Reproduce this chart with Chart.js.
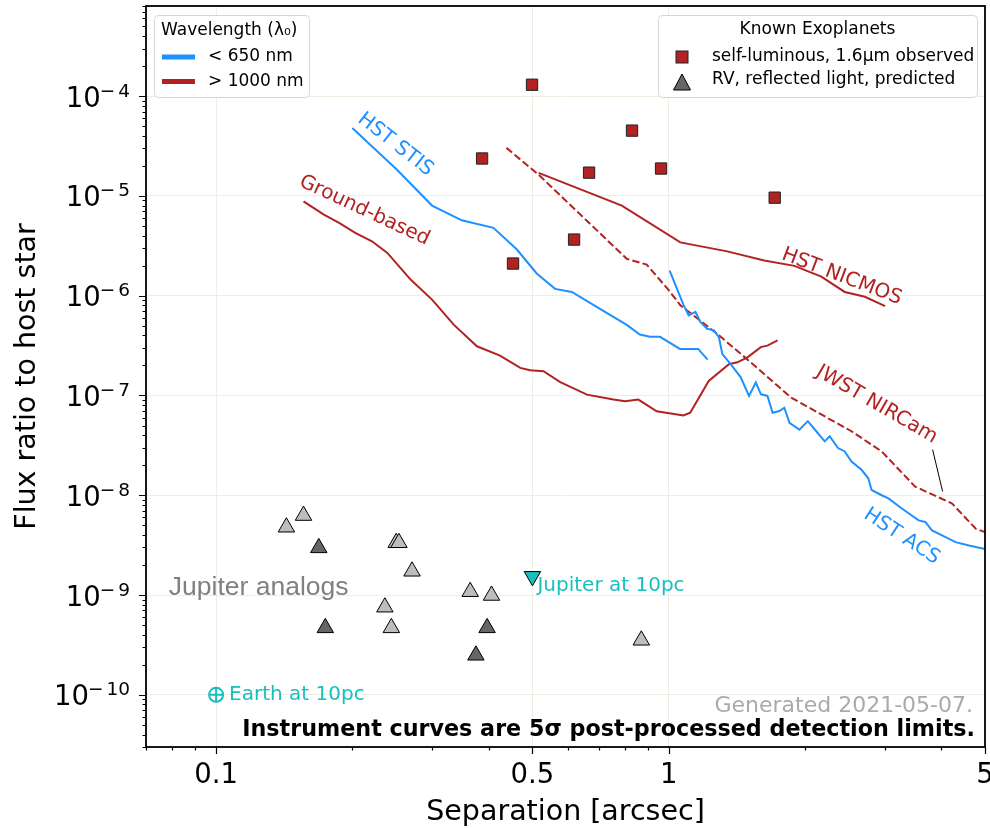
<!DOCTYPE html>
<html>
<head>
<meta charset="utf-8">
<script src="https://cdn.jsdelivr.net/npm/chart.js@4.4.1/dist/chart.umd.min.js"></script>
<style>
html, body { margin: 0; padding: 0; background: #fff; }
</style>
</head>
<body>
<canvas id="c" width="990" height="828"></canvas>
<script>
// axis ticks
const xTickValues = [0.07, 0.08, 0.09, 0.1, 0.2, 0.3, 0.4, 0.5, 0.6, 0.7, 0.8, 0.9, 1, 2, 3, 4, 5];
const xTickLabels = [0.1, 0.5, 1, 5];
const yDecades = [-10, -9, -8, -7, -6, -5, -4];

// instrument curves (separation [arcsec], flux ratio)
const stisSep = [0.200, 0.251, 0.300, 0.349, 0.410, 0.462, 0.511, 0.561, 0.611, 0.705, 0.808, 0.864, 0.909, 0.957, 1.059, 1.162, 1.219];
const stisFlux = [4.80e-5, 1.83e-5, 8.0e-6, 5.69e-6, 4.78e-6, 2.90e-6, 1.67e-6, 1.17e-6, 1.09e-6, 7.37e-7, 5.10e-7, 4.08e-7, 3.87e-7, 3.87e-7, 2.93e-7, 2.93e-7, 2.29e-7];

const groundSep = [0.156, 0.173, 0.187, 0.203, 0.221, 0.239, 0.269, 0.300, 0.335, 0.377, 0.424, 0.470, 0.494, 0.529, 0.576, 0.660, 0.755, 0.801, 0.857, 0.941, 1.078, 1.116, 1.226, 1.359, 1.418, 1.493, 1.598, 1.653, 1.740];
const groundFlux = [8.83e-6, 6.50e-6, 5.36e-6, 4.26e-6, 3.51e-6, 2.68e-6, 1.45e-6, 9.14e-7, 5.13e-7, 3.11e-7, 2.51e-7, 1.89e-7, 1.79e-7, 1.75e-7, 1.36e-7, 1.02e-7, 9.10e-8, 8.75e-8, 9.10e-8, 6.95e-8, 6.30e-8, 6.71e-8, 1.40e-7, 2.06e-7, 2.15e-7, 2.41e-7, 3.05e-7, 3.16e-7, 3.56e-7];

const nicmosSep = [0.516, 0.788, 1.061, 1.347, 1.626, 1.896, 2.174, 2.449, 2.714, 3.008];
const nicmosFlux = [1.70e-5, 8.0e-6, 3.42e-6, 2.78e-6, 2.25e-6, 1.99e-6, 1.55e-6, 1.09e-6, 9.75e-7, 7.85e-7];

const nircamSep = [0.438, 0.516, 0.808, 0.894, 0.998, 1.061, 1.280, 1.518, 1.865, 2.535, 2.956, 3.505, 4.230, 4.77, 5.0];
const nircamFlux = [3.03e-5, 1.63e-5, 2.34e-6, 2.05e-6, 1.15e-6, 8.03e-7, 4.15e-7, 2.15e-7, 9.51e-8, 4.38e-8, 2.75e-8, 1.22e-8, 8.26e-9, 4.62e-9, 4.28e-9];

const acsSep = [1.005, 1.079, 1.107, 1.146, 1.175, 1.216, 1.259, 1.291, 1.314, 1.371, 1.443, 1.505, 1.558, 1.598, 1.653, 1.697, 1.756, 1.801, 1.849, 1.945, 2.030, 2.119, 2.212, 2.268, 2.367, 2.449, 2.535, 2.668, 2.761, 2.808, 2.956, 3.059, 3.275, 3.567, 3.691, 3.818, 4.019, 4.305, 4.608, 5.0];
const acsFlux = [1.78e-6, 8.03e-7, 6.36e-7, 6.87e-7, 5.45e-7, 4.66e-7, 4.49e-7, 3.84e-7, 2.60e-7, 2.06e-7, 1.52e-7, 9.89e-8, 1.35e-7, 1.03e-7, 9.89e-8, 6.71e-8, 6.98e-8, 7.53e-8, 5.31e-8, 4.55e-8, 5.53e-8, 4.38e-8, 3.47e-8, 3.90e-8, 2.97e-8, 2.75e-8, 2.18e-8, 1.80e-8, 1.48e-8, 1.13e-8, 1.00e-8, 9.29e-9, 7.36e-9, 5.60e-9, 5.40e-9, 4.45e-9, 3.96e-9, 3.39e-9, 3.13e-9, 2.90e-9];

// known planets
const selfLumSep = [0.387, 0.499, 0.453, 0.618, 0.667, 0.830, 0.962, 1.715];
const selfLumFlux = [2.37e-5, 1.30e-4, 2.10e-6, 3.65e-6, 1.71e-5, 4.51e-5, 1.88e-5, 9.6e-6];

const rvLightSep = [0.143, 0.156, 0.250, 0.2535, 0.271, 0.236, 0.2439, 0.3643, 0.406, 0.870];
const rvLightFlux = [4.78e-9, 6.26e-9, 3.34e-9, 3.34e-9, 1.73e-9, 7.55e-10, 4.69e-10, 1.08e-9, 9.9e-10, 3.52e-10];
const rvDarkSep = [0.1686, 0.1743, 0.397, 0.375];
const rvDarkFlux = [2.97e-9, 4.69e-10, 4.69e-10, 2.49e-10];

const jupiterSep = [0.5];
const jupiterFlux = [1.54e-9];
const earthSep = [0.1];
const earthFlux = [1e-10];

// leader line for the NIRCam label
const leaderSep = [3.83, 4.03];
const leaderFlux = [2.87e-8, 1.09e-8];

const BLUE = '#1e90ff';
const RED = '#b22222';
const CYAN = '#17bfbf';
const FONT = '"DejaVu Sans"';

const curveLabels = [
    { text: 'HST STIS', sep: 0.249, flux: 3.27e-5, angle: 38, color: BLUE },
    { text: 'Ground-based', sep: 0.2127, flux: 7.13e-6, angle: 25, color: RED },
    { text: 'HST NICMOS', sep: 2.412, flux: 1.55e-6, angle: 21, color: RED },
    { text: 'JWST NIRCam', sep: 2.882, flux: 8.11e-8, angle: 30, color: RED },
    { text: 'HST ACS', sep: 3.272, flux: 3.86e-9, angle: 33, color: BLUE }
];

function pts(xs, ys) {
    return xs.map((v, i) => ({ x: v, y: ys[i] }));
}

function curve(xs, ys, color, dash) {
    return {
        data: pts(xs, ys),
        showLine: true,
        borderColor: color,
        borderWidth: 2,
        borderDash: dash || [],
        pointRadius: 0,
        fill: false,
        tension: 0
    };
}

const decor = {
    id: 'decor',
    afterDraw(chart) {
        const { ctx, chartArea: a, scales: { x, y } } = chart;
        ctx.save();

        // frame
        ctx.strokeStyle = '#000';
        ctx.lineWidth = 1.8;
        ctx.strokeRect(a.left, a.top, a.right - a.left, a.bottom - a.top);

        // tick marks
        ctx.lineWidth = 1.2;
        ctx.beginPath();
        xTickValues.forEach(v => {
            const px = Math.round(x.getPixelForValue(v)) + 0.5;
            const len = xTickLabels.includes(v) ? 7 : 3.5;
            ctx.moveTo(px, a.bottom);
            ctx.lineTo(px, a.bottom + len);
        });
        for (let d = -11; d <= -3; d++) {
            for (let m = 1; m <= 9; m++) {
                const v = m * Math.pow(10, d);
                if (v < y.min || v > y.max) continue;
                const py = Math.round(y.getPixelForValue(v)) + 0.5;
                const len = m === 1 ? 7 : 3.5;
                ctx.moveTo(a.left, py);
                ctx.lineTo(a.left - len, py);
            }
        }
        ctx.stroke();

        // y tick labels as 10^n
        ctx.fillStyle = '#000';
        ctx.textBaseline = 'alphabetic';
        ctx.textAlign = 'right';
        yDecades.forEach(d => {
            const py = y.getPixelForValue(Math.pow(10, d));
            const digits = String(Math.abs(d));
            let right = a.left - 16;
            ctx.font = '18.5px ' + FONT;
            ctx.fillText(digits, right, py + 0.5);
            right -= ctx.measureText(digits).width + 3;
            ctx.fillText('\u2212', right, py + 0.5);
            right -= ctx.measureText('\u2212').width;
            ctx.font = '27.5px ' + FONT;
            ctx.fillText('10', right + 1, py + 10.5);
        });

        // curve labels
        ctx.font = '20px ' + FONT;
        ctx.textAlign = 'center';
        ctx.textBaseline = 'middle';
        curveLabels.forEach(l => {
            ctx.save();
            ctx.translate(x.getPixelForValue(l.sep), y.getPixelForValue(l.flux));
            ctx.rotate(l.angle * Math.PI / 180);
            ctx.fillStyle = l.color;
            ctx.fillText(l.text, 0, 0);
            ctx.restore();
        });

        // Jupiter analogs
        ctx.font = '26.5px "Liberation Sans"';
        ctx.fillStyle = '#808080';
        ctx.textAlign = 'left';
        ctx.textBaseline = 'alphabetic';
        ctx.fillText('Jupiter analogs', x.getPixelForValue(0.0786), y.getPixelForValue(1.0e-9));

        // Earth / Jupiter at 10pc
        ctx.font = '20px ' + FONT;
        ctx.fillStyle = CYAN;
        ctx.textBaseline = 'middle';
        ctx.fillText('Earth at 10pc', x.getPixelForValue(earthSep[0]) + 13, y.getPixelForValue(earthFlux[0]));
        ctx.fillText('Jupiter at 10pc', x.getPixelForValue(jupiterSep[0]) + 5, y.getPixelForValue(jupiterFlux[0]) + 9);

        // notes
        ctx.textAlign = 'right';
        ctx.font = '22px ' + FONT;
        ctx.fillStyle = '#aaaaaa';
        ctx.fillText('Generated 2021-05-07.', a.right - 12, a.bottom - 41);
        ctx.font = 'bold 22.25px ' + FONT;
        ctx.fillStyle = '#000';
        ctx.fillText('Instrument curves are 5\u03c3 post-processed detection limits.', a.right - 10, a.bottom - 17);

        // legend boxes
        const box = (l, t, w, h) => {
            ctx.beginPath();
            ctx.roundRect(l, t, w, h, 4);
            ctx.fillStyle = 'rgba(255,255,255,0.85)';
            ctx.fill();
            ctx.strokeStyle = '#d6d6d6';
            ctx.lineWidth = 1;
            ctx.stroke();
        };

        box(a.left + 8.5, a.top + 9.5, 155, 82);
        ctx.font = '17px ' + FONT;
        ctx.fillStyle = '#000';
        ctx.textAlign = 'left';
        ctx.textBaseline = 'middle';
        ctx.fillText('Wavelength (\u03bb\u2080)', a.left + 15, a.top + 25);
        [[BLUE, '< 650 nm', 51], [RED, '> 1000 nm', 75.5]].forEach(([c, t, dy]) => {
            ctx.strokeStyle = c;
            ctx.lineWidth = 5;
            ctx.beginPath();
            ctx.moveTo(a.left + 16, a.top + dy);
            ctx.lineTo(a.left + 49, a.top + dy);
            ctx.stroke();
            ctx.fillStyle = '#000';
            ctx.fillText(t, a.left + 62, a.top + dy);
        });

        box(a.left + 512.5, a.top + 9.5, 319, 82);
        ctx.fillStyle = '#000';
        ctx.textAlign = 'center';
        ctx.fillText('Known Exoplanets', a.left + 671.5, a.top + 24);
        ctx.textAlign = 'left';
        ctx.fillText('self-luminous, 1.6\u00b5m observed', a.left + 566, a.top + 51);
        ctx.fillText('RV, reflected light, predicted', a.left + 566, a.top + 74);
        ctx.fillStyle = RED;
        ctx.strokeStyle = '#222';
        ctx.lineWidth = 1;
        ctx.fillRect(a.left + 530, a.top + 45, 12, 12);
        ctx.strokeRect(a.left + 530, a.top + 45, 12, 12);
        ctx.beginPath();
        ctx.moveTo(a.left + 536, a.top + 68);
        ctx.lineTo(a.left + 544.5, a.top + 84);
        ctx.lineTo(a.left + 527.5, a.top + 84);
        ctx.closePath();
        ctx.fillStyle = '#666666';
        ctx.fill();
        ctx.strokeStyle = '#000';
        ctx.stroke();

        ctx.restore();
    }
};

new Chart(document.getElementById('c'), {
    type: 'scatter',
    data: {
        datasets: [
            {
                data: pts(earthSep, earthFlux), pointStyle: 'circle', pointRadius: 7,
                backgroundColor: 'rgba(0,0,0,0)', borderColor: CYAN, borderWidth: 2
            },
            {
                data: pts(earthSep, earthFlux), pointStyle: 'cross', pointRadius: 7,
                borderColor: CYAN, borderWidth: 2
            },
            {
                data: pts(jupiterSep, jupiterFlux), pointStyle: 'triangle', rotation: 180, pointRadius: 9.5,
                backgroundColor: CYAN, borderColor: '#000', borderWidth: 1
            },
            {
                data: pts(selfLumSep, selfLumFlux), pointStyle: 'rect', pointRadius: 8,
                backgroundColor: RED, borderColor: '#222', borderWidth: 1
            },
            {
                data: pts(rvDarkSep, rvDarkFlux), pointStyle: 'triangle', pointRadius: 9.5,
                backgroundColor: '#666666', borderColor: '#000', borderWidth: 1
            },
            {
                data: pts(rvLightSep, rvLightFlux), pointStyle: 'triangle', pointRadius: 9.5,
                backgroundColor: '#bdbdbd', borderColor: '#000', borderWidth: 1
            },
            Object.assign(curve(leaderSep, leaderFlux, '#000'), { borderWidth: 1 }),
            curve(acsSep, acsFlux, BLUE),
            curve(stisSep, stisFlux, BLUE),
            curve(nircamSep, nircamFlux, RED, [7.4, 3.2]),
            curve(nicmosSep, nicmosFlux, RED),
            curve(groundSep, groundFlux, RED)
        ]
    },
    options: {
        responsive: false,
        animation: false,
        layout: { autoPadding: false, padding: { top: 6, right: 5, left: 0, bottom: 0 } },
        plugins: {
            legend: { display: false },
            tooltip: { enabled: false }
        },
        scales: {
            x: {
                type: 'logarithmic',
                min: 0.07,
                max: 5,
                afterBuildTicks: s => { s.ticks = xTickValues.map(v => ({ value: v })); },
                afterFit: s => { s.height = 81; s.paddingLeft = 0; s.paddingRight = 0; },
                border: { display: false },
                grid: {
                    drawTicks: false,
                    lineWidth: 1,
                    color: c => xTickLabels.includes(c.tick && c.tick.value) ? '#f2ede3' : 'rgba(0,0,0,0)'
                },
                ticks: {
                    autoSkip: false,
                    maxRotation: 0,
                    padding: 12,
                    color: '#000',
                    font: { family: 'DejaVu Sans', size: 27.5 },
                    callback: v => xTickLabels.includes(v) ? String(v) : ''
                },
                title: {
                    display: true,
                    text: 'Separation [arcsec]',
                    color: '#000',
                    font: { family: 'DejaVu Sans', size: 28.5, lineHeight: 1 },
                    padding: { top: 0, bottom: 1 }
                }
            },
            y: {
                type: 'logarithmic',
                min: 3e-11,
                max: 8e-4,
                afterBuildTicks: s => { s.ticks = yDecades.map(d => ({ value: Math.pow(10, d) })); },
                afterFit: s => { s.width = 146; s.paddingTop = 0; s.paddingBottom = 0; },
                border: { display: false },
                grid: { drawTicks: false, lineWidth: 1, color: '#f2ede3' },
                ticks: { display: false },
                title: {
                    display: true,
                    text: 'Flux ratio to host star',
                    color: '#000',
                    font: { family: 'DejaVu Sans', size: 28.5, lineHeight: 1 },
                    padding: { top: 13, bottom: 0 }
                }
            }
        }
    },
    plugins: [decor]
});
</script>
</body>
</html>
